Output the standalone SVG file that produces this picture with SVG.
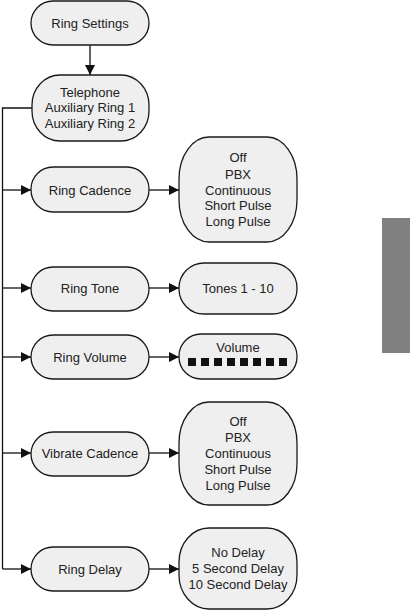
<svg xmlns="http://www.w3.org/2000/svg" width="410" height="610" viewBox="0 0 410 610">
<defs>
<style>
.n{fill:#efefef;stroke:#1a1a1a;stroke-width:1.3}
.t{font-family:"Liberation Sans",Arial,sans-serif;font-size:13px;fill:#222;text-anchor:middle}
.c{fill:none;stroke:#111;stroke-width:1.3}
.sq{fill:#111}
</style>
<marker id="ah" markerWidth="10" markerHeight="10" refX="10" refY="5" orient="auto" markerUnits="userSpaceOnUse">
<path d="M0,0 L10,5 L0,10 Z" fill="#111"/>
</marker>
</defs>
<rect x="382" y="218" width="28" height="135" fill="#808080"/>
<g id="connectors">
<line class="c" x1="90" y1="45" x2="90" y2="75" marker-end="url(#ah)"/>
<polyline class="c" points="32,108 2.5,108 2.5,569"/>
<line class="c" x1="2.5" y1="190" x2="31" y2="190" marker-end="url(#ah)"/>
<line class="c" x1="2.5" y1="288" x2="31" y2="288" marker-end="url(#ah)"/>
<line class="c" x1="2.5" y1="357" x2="31" y2="357" marker-end="url(#ah)"/>
<line class="c" x1="2.5" y1="453" x2="31" y2="453" marker-end="url(#ah)"/>
<line class="c" x1="2.5" y1="569" x2="31" y2="569" marker-end="url(#ah)"/>
<line class="c" x1="149" y1="190" x2="179" y2="190" marker-end="url(#ah)"/>
<line class="c" x1="149" y1="288" x2="179" y2="288" marker-end="url(#ah)"/>
<line class="c" x1="149" y1="357" x2="179" y2="357" marker-end="url(#ah)"/>
<line class="c" x1="149" y1="453" x2="179" y2="453" marker-end="url(#ah)"/>
<line class="c" x1="149" y1="569" x2="179" y2="569" marker-end="url(#ah)"/>
</g>
<g id="ring-settings"><rect class="n" x="31" y="1" width="118" height="44" rx="22"/><text class="t" x="90" y="27.5">Ring Settings</text></g>
<g id="telephone"><rect class="n" x="32" y="75" width="117" height="66" rx="28" ry="30"/>
<text class="t" x="90" y="96.5">Telephone</text><text class="t" x="90" y="112">Auxiliary Ring 1</text><text class="t" x="90" y="127.5">Auxiliary Ring 2</text></g>
<g id="ring-cadence"><rect class="n" x="31" y="167" width="118" height="45" rx="22"/><text class="t" x="90" y="194.5">Ring Cadence</text></g>
<g id="ring-cadence-opts"><rect class="n" x="179" y="137" width="118" height="105" rx="30" ry="42"/>
<text class="t" x="238" y="161.5">Off</text><text class="t" x="238" y="178.5">PBX</text><text class="t" x="238" y="194.5">Continuous</text><text class="t" x="238" y="210">Short Pulse</text><text class="t" x="238" y="225.5">Long Pulse</text></g>
<g id="ring-tone"><rect class="n" x="31" y="267" width="118" height="44" rx="22"/><text class="t" x="90" y="292.5">Ring Tone</text></g>
<g id="tones"><rect class="n" x="179" y="263" width="118" height="51" rx="25"/><text class="t" x="238" y="292.5">Tones 1 - 10</text></g>
<g id="ring-volume"><rect class="n" x="31" y="335" width="118" height="44" rx="22"/><text class="t" x="90" y="361.5">Ring Volume</text></g>
<g id="volume"><rect class="n" x="179" y="334" width="118" height="45" rx="22"/><text class="t" x="238" y="351.5">Volume</text>
<rect class="sq" x="188" y="358" width="8" height="8"/><rect class="sq" x="201" y="358" width="8" height="8"/><rect class="sq" x="214" y="358" width="8" height="8"/><rect class="sq" x="227" y="358" width="8" height="8"/><rect class="sq" x="240" y="358" width="8" height="8"/><rect class="sq" x="253" y="358" width="8" height="8"/><rect class="sq" x="266" y="358" width="8" height="8"/><rect class="sq" x="279" y="358" width="8" height="8"/></g>
<g id="vibrate-cadence"><rect class="n" x="31" y="432" width="118" height="44" rx="22"/><text class="t" x="90" y="457.5">Vibrate Cadence</text></g>
<g id="vibrate-opts"><rect class="n" x="179" y="402" width="118" height="103" rx="30" ry="41"/>
<text class="t" x="238" y="425.5">Off</text><text class="t" x="238" y="441.5">PBX</text><text class="t" x="238" y="457.5">Continuous</text><text class="t" x="238" y="473.5">Short Pulse</text><text class="t" x="238" y="489.5">Long Pulse</text></g>
<g id="ring-delay"><rect class="n" x="31" y="547" width="118" height="44" rx="22"/><text class="t" x="90" y="573.5">Ring Delay</text></g>
<g id="delay-opts"><rect class="n" x="179" y="528" width="118" height="81" rx="30" ry="34"/>
<text class="t" x="238" y="556.5">No Delay</text><text class="t" x="238" y="572.5">5 Second Delay</text><text class="t" x="238" y="588.5">10 Second Delay</text></g>
</svg>
